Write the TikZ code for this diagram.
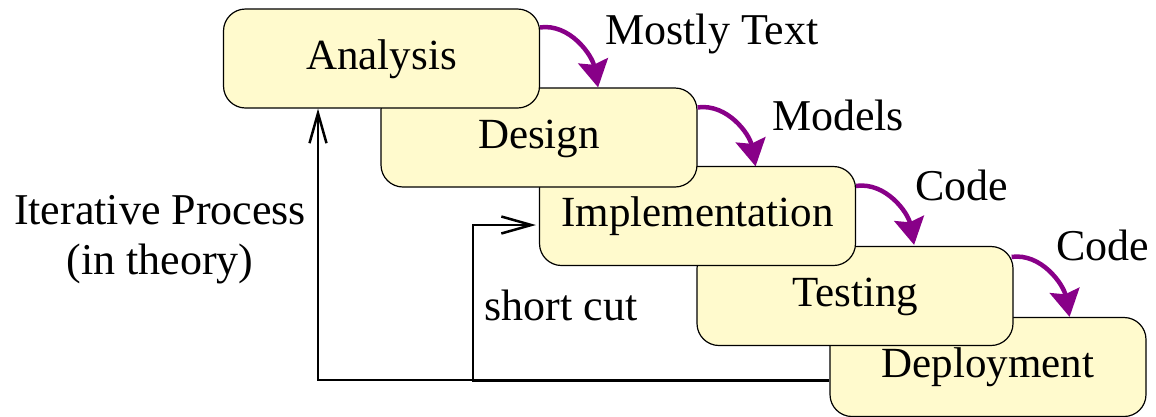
\documentclass[tikz,border=0pt]{standalone}
\usepackage{fontspec}
\setmainfont{Liberation Serif}
\usetikzlibrary{arrows.meta,calc}
\definecolor{boxfill}{RGB}{255,250,205}
\definecolor{flow}{RGB}{136,0,136}
\begin{document}
\begin{tikzpicture}[x=1pt,y=-1pt,
  stage/.style={draw=black,line width=1.2pt,fill=boxfill,rounded corners=22pt,
    minimum width=316pt,minimum height=99pt,inner sep=0pt,
    text height=30pt,text depth=9pt,font=\fontsize{43}{50}\selectfont},
  lbl/.style={inner sep=0pt,font=\fontsize{44}{50}\selectfont},
  flowarrow/.style={draw=flow,line width=4.5pt,-{Stealth[length=27pt,width=30pt,inset=4pt]}},
  back/.style={draw=black,line width=1.3pt,-{Straight Barb[length=30pt,width=17pt,line width=2.5pt]}}]
\useasboundingbox (0,0) rectangle (1156,416);
% stages, drawn bottom-up so the upper one overlaps the lower one
\node[stage] (P) at (988,367) {Deployment};
\node[stage] (T) at (855,296) {Testing};
\node[stage] (I) at (697.5,216) {Implementation};
\node[stage] (D) at (539,137.5) {Design};
\node[stage] (A) at (381.5,58.5) {Analysis};
% flow arrows
\draw[flowarrow] ($(A.north east)+(0,19)$) .. controls +(30,-4) and +(-6,-32) .. ($(A.north east)+(58,79)$);
\draw[flowarrow] ($(D.north east)+(0,20)$) .. controls +(30,-4) and +(-6,-32) .. ($(D.north east)+(58,79)$);
\draw[flowarrow] ($(I.north east)+(0,20)$) .. controls +(30,-4) and +(-6,-32) .. ($(I.north east)+(58,79)$);
\draw[flowarrow] ($(T.north east)+(-2,11)$) .. controls +(30,-4) and +(-6,-32) .. ($(T.north east)+(56,71)$);
% labels
\node[lbl,anchor=base] (lmt) at (712,44) {Mostly Text};
\node[lbl,anchor=base] (lmod) at (838,130) {Models};
\node[lbl,anchor=base] (lc1) at (962,200) {Code};
\node[lbl,anchor=base] (lc2) at (1103,260) {Code};
\node[lbl,anchor=base] (lsc) at (561,320) {short cut};
\node[lbl,anchor=base,align=center] (lit) at (160,274) {Iterative Process\\(in theory)};
% feedback lines
\coordinate (fb) at ($(P.west)+(0,13)$);
\coordinate (fbs) at ($(P.west)+(0,14.2)$);
\draw[back] (fb) -| ($(A.south)+(-63.5,0)$);
\draw[back] (fbs) -| ($(I.west)+(-66,9)$) -- ($(I.west)+(-3,9)$);
\end{tikzpicture}
\end{document}
